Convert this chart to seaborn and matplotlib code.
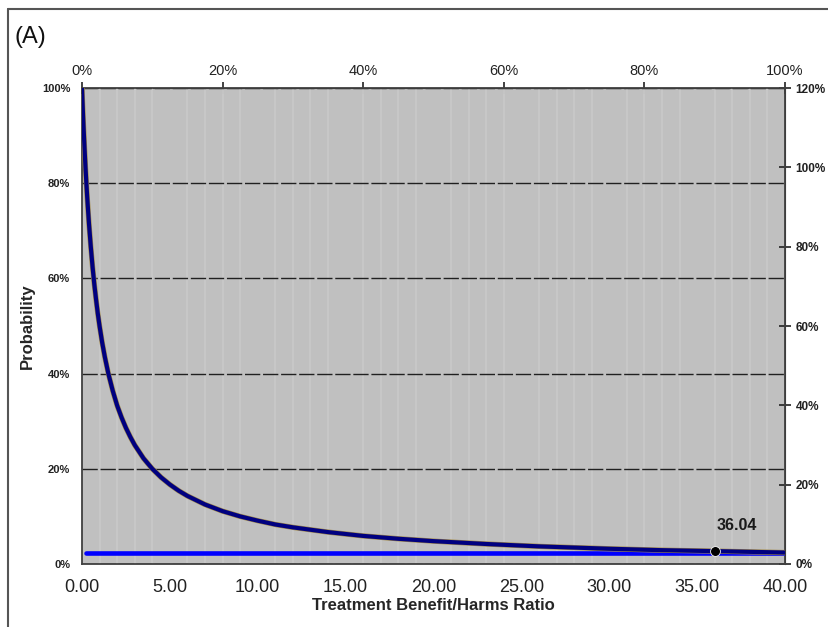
import numpy as np
import pandas as pd
import matplotlib
matplotlib.use("Agg")
import matplotlib.pyplot as plt
import matplotlib.patheffects as pe
from matplotlib.ticker import FuncFormatter, MultipleLocator
import seaborn as sns

# threshold curve (ratio -> probability)
ratio = [0.0, 0.03, 0.06, 0.1, 0.15, 0.2, 0.25, 0.3, 0.35, 0.4, 0.5, 0.6, 0.7, 0.8,
         0.9, 1.0, 1.15, 1.3, 1.5, 1.75, 2.0, 2.25, 2.5, 2.75, 3.0, 3.5, 4.0, 4.5,
         5.0, 5.5, 6.0, 7.0, 8.0, 9.0, 10.0, 11.0, 12.0, 14.0, 16.0, 18.0, 20.0,
         23.0, 26.0, 30.0, 33.0, 36.04, 40.0]
prob = [1.0, 0.971, 0.943, 0.909, 0.870, 0.833, 0.800, 0.769, 0.741, 0.714, 0.667,
        0.625, 0.588, 0.556, 0.526, 0.5, 0.465, 0.435, 0.4, 0.364, 0.333, 0.308,
        0.286, 0.267, 0.25, 0.222, 0.2, 0.182, 0.167, 0.154, 0.143, 0.125, 0.111,
        0.1, 0.091, 0.083, 0.077, 0.067, 0.059, 0.053, 0.048, 0.042, 0.037, 0.032,
        0.029, 0.027, 0.024]
# flat reference line
ref_x = [0.25, 40.0]
ref_y = [0.023, 0.023]
# marked point
mark_x = [36.04]
mark_y = [0.027]
mark_label = "36.04"

curve = pd.DataFrame({"ratio": ratio, "prob": prob})
ref = pd.DataFrame({"ratio": ref_x, "prob": ref_y})
mark = pd.DataFrame({"ratio": mark_x, "prob": mark_y})

sns.set_style("white")
plt.rcParams["font.family"] = ["Liberation Sans", "DejaVu Sans"]

fig = plt.figure(figsize=(8.29, 6.27), dpi=100)
ax = fig.add_axes([0.0989, 0.1005, 0.848, 0.759])
ax.set_facecolor("#c0c0c0")

sns.lineplot(data=ref, x="ratio", y="prob", color="#0000ff", lw=3.3, ax=ax, zorder=3)
sns.lineplot(data=curve, x="ratio", y="prob", color="#000080", lw=3.0, ax=ax, zorder=4,
             path_effects=[pe.Stroke(linewidth=3.8, foreground="#a08848"), pe.Normal()])
sns.scatterplot(data=mark, x="ratio", y="prob", color="black", s=50, ax=ax, zorder=5)
ax.annotate(mark_label, (mark_x[0], mark_y[0]), xytext=(1, 15), textcoords="offset points",
            fontsize=11.5, fontweight="bold", color="#1a1a1a")

ax.set_xlim(0, 40)
ax.set_ylim(0, 1)
ax.xaxis.set_major_locator(MultipleLocator(5))
ax.xaxis.set_minor_locator(MultipleLocator(1))
ax.yaxis.set_major_locator(MultipleLocator(0.2))
ax.xaxis.set_major_formatter(FuncFormatter(lambda v, p: f"{v:.2f}"))
ax.yaxis.set_major_formatter(FuncFormatter(lambda v, p: f"{v*100:.0f}%"))
ax.grid(which="minor", axis="x", color="#c8c8c8", lw=1.4)
ax.grid(which="major", axis="y", color="#202020", lw=1.0, linestyle=(0, (11, 2)))
ax.set_axisbelow(True)

ax.tick_params(axis="x", which="major", direction="out", length=5, width=1.2,
               labelsize=13, pad=6, colors="#222222")
ax.tick_params(axis="x", which="minor", length=0)
ax.tick_params(axis="y", direction="out", length=5, width=1.2, labelsize=8,
               colors="#222222")
for lab in ax.get_yticklabels():
    lab.set_fontweight("bold")

ax.set_xlabel("Treatment Benefit/Harms Ratio", fontsize=12, fontweight="bold", labelpad=1)
ax.set_ylabel("Probability", fontsize=12, fontweight="bold", labelpad=5)

for s in ax.spines.values():
    s.set_color("#404040")
    s.set_linewidth(1.3)

top = ax.secondary_xaxis("top", functions=(lambda x: x * 2.5, lambda p: p / 2.5))
top.set_xticks([0, 20, 40, 60, 80, 100])
top.xaxis.set_major_formatter(FuncFormatter(lambda v, p: f"{v:.0f}%"))
top.tick_params(direction="inout", length=8, width=1.2, labelsize=10.5, colors="#222222", pad=3)

right = ax.secondary_yaxis("right", functions=(lambda y: y * 120, lambda p: p / 120))
right.set_yticks([0, 20, 40, 60, 80, 100, 120])
right.yaxis.set_major_formatter(FuncFormatter(lambda v, p: f"{v:.0f}%"))
right.tick_params(direction="inout", length=8, width=1.2, labelsize=8.5, colors="#222222")
for lab in right.get_yticklabels():
    lab.set_fontweight("bold")

fig.text(0.018, 0.932, "(A)", fontsize=17, color="#111111")
fig.add_artist(plt.Line2D([0.01, 0.01], [0.0, 0.986], color="#555555", lw=1.5))
fig.add_artist(plt.Line2D([0.01, 1.0], [0.986, 0.986], color="#555555", lw=1.5))

fig.savefig("out.png", dpi=100)
